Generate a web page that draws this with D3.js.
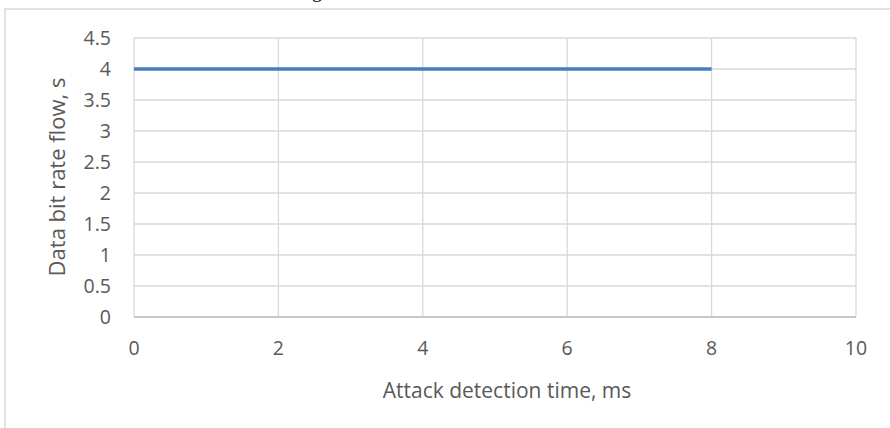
<!DOCTYPE html>
<html lang="en">
<head>
  <meta charset="UTF-8" />
  <title>Data bit rate flow vs attack detection time</title>
  <style>
    body { margin: 0; background: #fff; }
    svg { display: block; font-family: "Open Sans", sans-serif; }
  </style>
</head>
<body>
  <svg id="chart" width="890" height="428"></svg>

  <script src="https://d3js.org/d3.v7.min.js"></script>
  <script>
    // values
    const detectionTime = [0, 2, 4, 6, 8];
    const bitRateFlow = [4, 4, 4, 4, 4];
    const xTicks = [0, 2, 4, 6, 8, 10];
    const yTicks = [0, 0.5, 1, 1.5, 2, 2.5, 3, 3.5, 4, 4.5];

    const svg = d3.select("#chart");

    const plot = {left: 134, right: 856, top: 38, bottom: 317};

    const x = d3.scaleLinear().domain([0, 10]).range([plot.left, plot.right]);
    const y = d3.scaleLinear().domain([0, 4.5]).range([plot.bottom, plot.top]);

    // outer chart frame (cropped on right and bottom)
    svg.append("rect")
      .attr("x", 5).attr("y", 9)
      .attr("width", 900).attr("height", 430)
      .attr("fill", "none")
      .attr("stroke", "#d9d9d9")
      .attr("stroke-width", 1.5);

    // cut-off heading above the chart, only a descender shows
    svg.append("text")
      .attr("x", 312).attr("y", -3.5)
      .attr("font-family", "'Liberation Serif', serif")
      .attr("font-size", 20)
      .attr("fill", "#000")
      .text("g");

    // grid
    svg.append("g")
      .selectAll("line")
      .data(yTicks)
      .join("line")
      .attr("x1", plot.left).attr("x2", plot.right)
      .attr("y1", d => y(d)).attr("y2", d => y(d))
      .attr("stroke", "#d9d9d9")
      .attr("stroke-width", 1.3);

    svg.append("g")
      .selectAll("line")
      .data(xTicks)
      .join("line")
      .attr("x1", d => x(d)).attr("x2", d => x(d))
      .attr("y1", plot.top).attr("y2", plot.bottom)
      .attr("stroke", "#d9d9d9")
      .attr("stroke-width", 1.3);

    // bottom axis line
    svg.append("line")
      .attr("x1", plot.left).attr("x2", plot.right)
      .attr("y1", y(0)).attr("y2", y(0))
      .attr("stroke", "#bfbfbf")
      .attr("stroke-width", 1.5);

    // tick labels
    svg.append("g")
      .selectAll("text")
      .data(yTicks)
      .join("text")
      .attr("x", 111)
      .attr("y", d => y(d))
      .attr("dy", "0.35em")
      .attr("text-anchor", "end")
      .attr("font-size", 19.5)
      .attr("fill", "#595959")
      .text(d => d);

    svg.append("g")
      .selectAll("text")
      .data(xTicks)
      .join("text")
      .attr("x", d => x(d))
      .attr("y", 348)
      .attr("dy", "0.35em")
      .attr("text-anchor", "middle")
      .attr("font-size", 19.5)
      .attr("fill", "#595959")
      .text(d => d);

    // axis titles
    svg.append("text")
      .attr("x", 507).attr("y", 391)
      .attr("dy", "0.35em")
      .attr("text-anchor", "middle")
      .attr("font-size", 21)
      .attr("fill", "#595959")
      .text("Attack detection time, ms");

    svg.append("text")
      .attr("transform", "translate(57,177) rotate(-90)")
      .attr("dy", "0.35em")
      .attr("text-anchor", "middle")
      .attr("font-size", 22)
      .attr("fill", "#595959")
      .text("Data bit rate flow, s");

    // series
    svg.append("path")
      .datum(detectionTime.map((t, i) => [t, bitRateFlow[i]]))
      .attr("fill", "none")
      .attr("stroke", "#4a7ebb")
      .attr("stroke-width", 3.5)
      .attr("d", d3.line().x(d => x(d[0])).y(d => y(d[1])));
  </script>
</body>
</html>
